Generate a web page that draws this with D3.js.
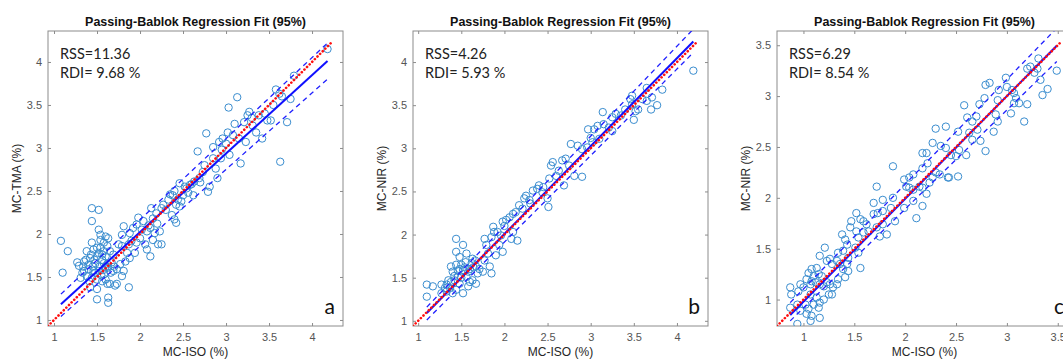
<!DOCTYPE html>
<html>
<head>
<meta charset="utf-8">
<script src="https://cdn.jsdelivr.net/npm/d3@7/dist/d3.min.js"></script>
<style>
  body { margin: 0; background: #fff; }
  svg { display: block; overflow: hidden; }
</style>
</head>
<body>
<div id="container"></div>
<script>
// panel letters / labels
const panelLetters = ['a', 'b', 'c'];
const xLabels = ['MC-ISO (%)', 'MC-ISO (%)', 'MC-ISO (%)'];
const yLabels = ['MC-TMA (%)', 'MC-NIR (%)', 'MC-NIR (%)'];
const titles = ['Passing-Bablok Regression Fit (95%)', 'Passing-Bablok Regression Fit (95%)', 'Passing-Bablok Regression Fit (95%)'];
const rssValues = ['11.36', '4.26', '6.29'];
const rdiValues = ['9.68', '5.93', '8.54'];

// axis limits and ticks
const axisLimits = [[0.93, 4.36], [0.94, 4.36], [0.74, 3.64]];
const ticksAB = [1, 1.5, 2, 2.5, 3, 3.5, 4];
const ticksC = [1, 1.5, 2, 2.5, 3, 3.5];

// Passing-Bablok fit [slope, intercept] and 95% CI lines
const fitLines = [[0.913, 0.196], [1.019, -0.031], [1.01, -0.03]];
const ciUpper = [[0.942, 0.283], [1.043, 0.012], [1.03, 0.074]];
const ciLower = [[0.89, 0.08], [1.003, -0.093], [0.973, -0.056]];

// MC-ISO vs MC-TMA
const pointsA = [
  [4.18,4.15],[3.79,3.84],[3.58,3.68],[3.62,3.63],[3.75,3.57],[3.71,3.30],[3.63,2.84],[3.13,3.59],[3.03,3.47],[3.27,3.42],
  [3.25,3.38],[3.38,3.38],[3.21,3.30],[3.10,3.28],[3.31,3.26],[3.48,3.32],[3.52,3.32],[3.02,3.18],[2.96,3.11],[3.08,3.15],
  [2.77,3.17],[2.85,3.01],[2.92,3.07],[2.67,2.96],[3.15,3.11],[3.23,3.07],[3.35,3.18],[3.42,3.11],[3.17,2.82],[2.88,2.76],
  [2.94,2.88],[3.04,2.92],[2.73,2.72],[2.81,2.55],[2.79,2.49],[2.90,2.65],[2.69,2.65],[2.63,2.61],[2.58,2.57],[2.54,2.53],
  [2.46,2.59],[2.40,2.50],[2.38,2.45],[2.50,2.45],[2.62,2.45],[2.48,2.38],[2.46,2.32],[2.42,2.34],[2.33,2.40],[2.27,2.34],
  [2.25,2.30],[2.37,2.22],[2.42,2.13],[2.40,2.17],[2.19,2.24],[2.13,2.30],[2.15,2.18],[2.04,2.15],[1.98,2.19],[1.96,2.11],
  [2.08,2.03],[2.12,2.07],[2.17,2.01],[2.23,2.03],[2.06,1.88],[2.08,1.82],[2.12,1.74],[2.15,1.93],[2.25,1.88],[2.21,1.88],
  [1.81,2.09],[1.92,2.07],[1.88,2.01],[1.79,1.99],[2.00,1.95],[1.96,1.90],[1.87,1.88],[1.79,1.86],[1.75,1.88],[1.85,1.78],
  [1.94,1.78],[1.88,1.72],[1.83,1.68],[1.77,1.65],[1.73,1.59],[1.69,1.57],[1.44,2.30],[1.52,2.28],[1.44,2.15],[1.52,2.05],
  [1.54,1.99],[1.60,1.97],[1.63,1.95],[1.58,1.90],[1.08,1.92],[1.16,1.80],[1.10,1.55],[1.29,1.63],[1.35,1.68],[1.38,1.80],
  [1.44,1.90],[1.46,1.82],[1.50,1.84],[1.54,1.84],[1.58,1.80],[1.62,1.86],[1.65,1.80],[1.69,1.76],[1.42,1.72],[1.50,1.74],
  [1.56,1.70],[1.62,1.65],[1.67,1.67],[1.35,1.57],[1.40,1.59],[1.46,1.57],[1.52,1.57],[1.58,1.53],[1.63,1.61],[1.31,1.49],
  [1.38,1.51],[1.44,1.49],[1.50,1.47],[1.60,1.47],[1.65,1.42],[1.71,1.40],[1.73,1.42],[1.42,1.38],[1.50,1.36],[1.62,1.42],
  [1.87,1.38],[1.79,1.51],[1.81,1.57],[1.50,1.24],[1.63,1.26],[1.63,1.20],[1.27,1.67],[1.33,1.55],[1.54,1.93],[1.40,1.64],
  [1.45,1.62],[1.48,1.66],[1.53,1.62],[1.57,1.58],[1.60,1.62],[1.47,1.70],[1.52,1.78],[1.56,1.76],[1.60,1.74],[1.43,1.76],
  [1.37,1.70],[1.55,1.52],[1.48,1.55],[1.66,1.55],[1.70,1.62],[1.58,1.66],[1.41,1.45],[1.56,1.45],[1.34,1.62],[2.35,2.46],
  [2.52,2.55],[2.56,2.48],[2.30,2.28],[2.44,2.40],[2.60,2.58],[2.70,2.60],[2.75,2.80],[2.85,2.88],[2.95,2.98],[3.00,3.05],
  [3.30,3.35],[3.45,3.40],[3.55,3.50],[3.65,3.60],[2.20,2.12],[2.10,2.10],[1.90,1.92],[2.02,2.05]
];

// MC-ISO vs MC-NIR (b)
const pointsB = [
  [4.19,3.90],[3.83,3.68],[3.77,3.50],[3.71,3.59],[3.65,3.55],[3.60,3.57],[3.48,3.61],[3.46,3.57],[3.48,3.51],[3.40,3.45],
  [3.52,3.43],[3.50,3.33],[3.29,3.40],[3.25,3.36],[3.14,3.42],[3.08,3.26],[3.04,3.22],[2.97,3.22],[3.15,3.28],[3.21,3.24],
  [3.25,3.20],[3.10,3.11],[3.02,3.07],[2.96,3.01],[2.90,2.99],[2.77,3.05],[2.85,3.03],[2.71,2.88],[2.67,2.86],[2.56,2.84],
  [2.54,2.80],[2.63,2.74],[2.60,2.68],[2.52,2.65],[2.81,2.68],[2.90,2.67],[2.40,2.57],[2.38,2.53],[2.44,2.49],[2.33,2.51],
  [2.25,2.45],[2.23,2.42],[2.29,2.40],[2.50,2.42],[2.51,2.32],[2.69,2.57],[2.13,2.26],[2.10,2.24],[2.06,2.20],[2.02,2.17],
  [1.98,2.15],[2.17,2.34],[2.21,2.30],[1.87,2.09],[1.88,2.03],[1.92,2.03],[1.96,1.99],[1.85,1.97],[1.77,1.95],[1.79,1.88],
  [1.94,1.88],[1.98,1.80],[1.90,1.76],[2.15,1.93],[2.10,2.03],[2.08,1.95],[1.44,1.95],[1.52,1.88],[1.44,1.80],[1.48,1.74],
  [1.56,1.78],[1.63,1.72],[1.62,1.67],[1.67,1.63],[1.71,1.60],[1.75,1.57],[1.38,1.63],[1.40,1.57],[1.44,1.65],[1.50,1.65],
  [1.52,1.59],[1.58,1.57],[1.35,1.47],[1.33,1.42],[1.37,1.38],[1.42,1.47],[1.46,1.51],[1.48,1.43],[1.56,1.51],[1.60,1.45],
  [1.63,1.47],[1.67,1.43],[1.69,1.55],[1.27,1.42],[1.31,1.38],[1.40,1.32],[1.44,1.36],[1.52,1.32],[1.58,1.40],[1.10,1.42],
  [1.17,1.40],[1.10,1.28],[1.27,1.32],[1.33,1.34],[1.83,1.63],[1.85,1.55],[1.77,1.70],[1.81,1.78],[1.46,1.58],[1.54,1.62],
  [1.60,1.60],[1.50,1.50],[1.42,1.52],[1.64,1.62],[1.55,1.68],[1.48,1.60],[1.66,1.70],[1.38,1.45],[2.00,2.10],[2.30,2.36],
  [2.45,2.55],[2.75,2.80],[3.00,3.12],[3.35,3.38],[3.55,3.45],[3.65,3.70],[3.70,3.45]
];

// MC-ISO vs MC-NIR (c)
const pointsC = [
  [3.49,3.25],[3.31,3.37],[3.30,3.27],[3.27,3.23],[3.23,3.29],[3.20,3.27],[3.33,3.16],[3.40,3.07],[3.35,3.01],[3.17,2.75],
  [3.20,2.92],[3.12,2.93],[3.09,2.98],[3.07,2.93],[3.04,2.83],[2.99,3.18],[3.00,3.09],[3.05,3.06],[3.07,3.03],[2.92,3.06],
  [2.91,2.96],[2.89,2.82],[2.91,2.75],[2.87,2.65],[2.83,3.13],[2.79,3.11],[2.78,2.98],[2.73,2.92],[2.70,2.80],[2.66,2.75],
  [2.71,2.67],[2.63,2.64],[2.66,2.57],[2.79,2.46],[2.74,2.56],[2.58,2.91],[2.61,2.79],[2.52,2.65],[2.53,2.47],[2.50,2.41],
  [2.40,2.70],[2.30,2.68],[2.27,2.54],[2.35,2.51],[2.40,2.49],[2.45,2.42],[2.60,2.42],[2.17,2.44],[2.21,2.44],[2.22,2.34],
  [2.17,2.29],[2.42,2.20],[2.43,2.20],[2.52,2.21],[2.30,2.25],[2.34,2.23],[2.27,2.20],[2.24,2.15],[2.08,2.23],[2.04,2.20],
  [1.99,2.18],[2.01,2.11],[2.04,2.10],[2.08,2.08],[2.14,2.11],[2.17,2.10],[2.21,2.04],[1.88,2.31],[1.72,2.11],[1.78,1.98],
  [1.69,1.95],[1.88,2.00],[1.86,1.90],[1.90,1.77],[1.99,1.90],[2.08,1.97],[2.11,1.80],[2.17,1.92],[1.52,1.85],[1.47,1.77],
  [1.46,1.71],[1.56,1.79],[1.59,1.77],[1.62,1.74],[1.69,1.84],[1.73,1.85],[1.78,1.87],[1.52,1.67],[1.54,1.61],[1.59,1.66],
  [1.64,1.67],[1.72,1.71],[1.78,1.74],[1.82,1.64],[1.75,1.62],[1.38,1.64],[1.41,1.59],[1.43,1.54],[1.39,1.48],[1.21,1.51],
  [1.34,1.46],[1.26,1.40],[1.33,1.38],[1.36,1.35],[1.43,1.35],[1.44,1.41],[1.54,1.46],[1.51,1.51],[1.16,1.43],[1.23,1.38],
  [1.28,1.35],[1.39,1.30],[1.41,1.22],[1.44,1.28],[1.56,1.31],[1.05,1.26],[1.08,1.30],[1.13,1.31],[1.10,1.23],[1.15,1.25],
  [1.18,1.23],[0.87,1.12],[0.88,1.05],[0.97,1.15],[0.95,1.08],[1.00,1.12],[1.03,1.20],[1.07,1.15],[1.08,1.18],[1.12,1.17],
  [1.16,1.15],[1.20,1.13],[1.23,1.17],[1.26,1.15],[1.29,1.12],[1.33,1.15],[1.34,1.20],[1.07,1.05],[1.13,1.02],[1.20,1.00],
  [1.25,1.05],[1.28,1.05],[0.87,0.92],[0.94,0.95],[0.97,0.89],[1.02,0.95],[1.05,0.91],[1.10,0.95],[1.15,0.92],[1.16,0.97],
  [1.03,0.86],[1.08,0.84],[1.16,0.82],[1.07,0.79],[0.94,0.76]
];

const allPoints = [pointsA, pointsB, pointsC];
const allTicks = [ticksAB, ticksAB, ticksC];

const W = 1063, H = 360;
const boxLefts = [48, 413, 777];
const boxTop = 31, boxSize = 295;

const svg = d3.select('#container').append('svg')
  .attr('width', W)
  .attr('height', H);

const fmt = d3.format('~g');

panelLetters.forEach(function(letter, p) {
  const g = svg.append('g')
    .attr('transform', 'translate(' + boxLefts[p] + ',' + boxTop + ')');

  const x = d3.scaleLinear().domain(axisLimits[p]).range([0, boxSize]);
  const y = d3.scaleLinear().domain(axisLimits[p]).range([boxSize, 0]);
  const ticks = allTicks[p];
  const pts = allPoints[p];

  const clipId = 'clip' + p;
  g.append('clipPath').attr('id', clipId)
    .append('rect').attr('width', boxSize).attr('height', boxSize);

  // axes (ticks inward, MATLAB box)
  const axB = g.append('g').attr('class', 'axis')
    .attr('transform', 'translate(0,' + boxSize + ')')
    .call(d3.axisBottom(x).tickValues(ticks).tickFormat(fmt).tickSizeInner(-3).tickSizeOuter(0).tickPadding(7));
  const axL = g.append('g').attr('class', 'axis')
    .call(d3.axisLeft(y).tickValues(ticks).tickFormat(fmt).tickSizeInner(-3).tickSizeOuter(0).tickPadding(6));
  const axT = g.append('g').attr('class', 'axis')
    .call(d3.axisTop(x).tickValues(ticks).tickFormat('').tickSizeInner(-3).tickSizeOuter(0));
  const axR = g.append('g').attr('class', 'axis')
    .attr('transform', 'translate(' + boxSize + ',0)')
    .call(d3.axisRight(y).tickValues(ticks).tickFormat('').tickSizeInner(-3).tickSizeOuter(0));

  [axB, axL, axT, axR].forEach(function(a) {
    a.select('.domain').remove();
    a.selectAll('line').attr('stroke', '#8c8c8c');
    a.selectAll('text')
      .attr('font-family', 'Liberation Sans, Arial, sans-serif')
      .attr('font-size', 11)
      .attr('fill', '#555');
  });

  g.append('rect')
    .attr('width', boxSize)
    .attr('height', boxSize)
    .attr('fill', 'none')
    .attr('stroke', '#8c8c8c')
    .attr('stroke-width', 1);

  const plot = g.append('g').attr('clip-path', 'url(#' + clipId + ')');

  // scatter
  plot.selectAll('circle')
    .data(pts)
    .enter().append('circle')
    .attr('cx', d => x(d[0]))
    .attr('cy', d => y(d[1]))
    .attr('r', 3.7)
    .attr('fill', 'none')
    .attr('stroke', '#3a8dcf')
    .attr('stroke-width', 1);

  const xExt = d3.extent(pts, d => d[0]);
  const line = d3.line().x(d => x(d[0])).y(d => y(d[1]));
  const seg = function(c) {
    return [[xExt[0], c[0] * xExt[0] + c[1]], [xExt[1], c[0] * xExt[1] + c[1]]];
  };

  // regression fit
  plot.append('path')
    .attr('d', line(seg(fitLines[p])))
    .attr('stroke', '#1010ff')
    .attr('stroke-width', 2)
    .attr('fill', 'none');

  // confidence bounds
  [ciUpper[p], ciLower[p]].forEach(function(c) {
    plot.append('path')
      .attr('d', line(seg(c)))
      .attr('stroke', '#2020ff')
      .attr('stroke-width', 1.3)
      .attr('stroke-dasharray', '5,4')
      .attr('fill', 'none');
  });

  // identity line
  const lo = axisLimits[p][0];
  const hi = xExt[1] + 0.05;
  plot.append('path')
    .attr('d', line([[lo, lo], [hi, hi]]))
    .attr('stroke', '#ff1010')
    .attr('stroke-width', 2.6)
    .attr('stroke-linecap', 'round')
    .attr('stroke-dasharray', '0.1,3.6')
    .attr('fill', 'none');

  // title
  g.append('text')
    .attr('x', boxSize / 2)
    .attr('y', -5)
    .attr('text-anchor', 'middle')
    .attr('font-family', 'Liberation Sans, Arial, sans-serif')
    .attr('font-weight', 'bold')
    .attr('font-size', 12.5)
    .attr('fill', '#111')
    .text(titles[p]);

  // axis labels
  g.append('text')
    .attr('x', boxSize / 2)
    .attr('y', boxSize + 30)
    .attr('text-anchor', 'middle')
    .attr('font-family', 'Liberation Sans, Arial, sans-serif')
    .attr('font-size', 12)
    .attr('fill', '#262626')
    .text(xLabels[p]);

  g.append('text')
    .attr('transform', 'translate(-31,' + (boxSize / 2) + ') rotate(-90)')
    .attr('text-anchor', 'middle')
    .attr('dy', '0.35em')
    .attr('font-family', 'Liberation Sans, Arial, sans-serif')
    .attr('font-size', 12)
    .attr('fill', '#262626')
    .text(yLabels[p]);

  // RSS / RDI
  g.append('text')
    .attr('x', 12)
    .attr('y', 28)
    .attr('font-family', 'Lato, sans-serif')
    .attr('font-size', 14.5)
    .attr('fill', '#222')
    .text('RSS=' + rssValues[p]);
  g.append('text')
    .attr('x', 12)
    .attr('y', 46.5)
    .attr('font-family', 'Lato, sans-serif')
    .attr('font-size', 14.5)
    .attr('fill', '#222')
    .text('RDI= ' + rdiValues[p] + ' %');

  // panel letter
  g.append('text')
    .attr('x', boxSize - 8)
    .attr('y', boxSize - 12)
    .attr('text-anchor', 'end')
    .attr('font-family', 'Lato, sans-serif')
    .attr('font-size', 21)
    .attr('fill', '#111')
    .text(letter);
});
</script>
</body>
</html>
